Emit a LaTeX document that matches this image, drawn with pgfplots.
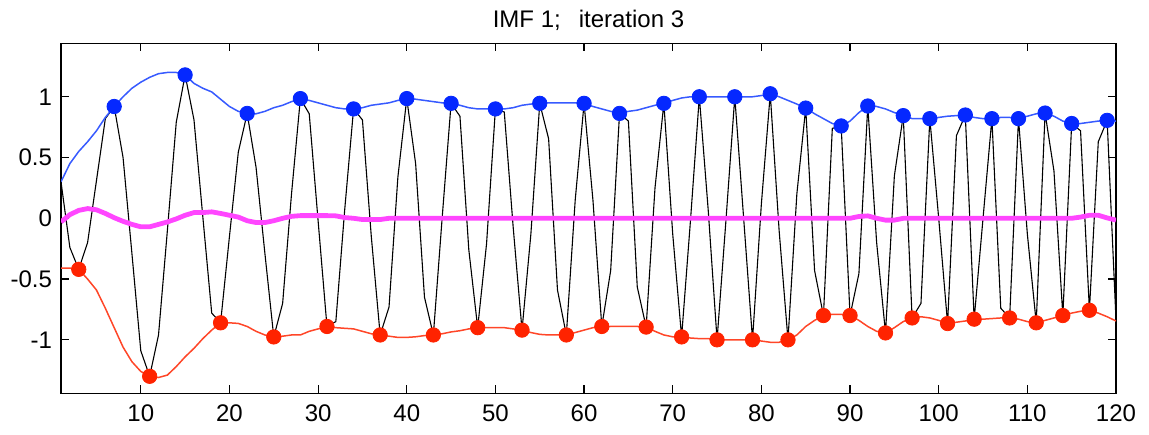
\documentclass[border=0pt]{standalone}
\usepackage{pgfplots}
\usepackage{pgfplotstable}
\pgfplotsset{compat=1.18}
\usepackage{fontspec}
\setmainfont{Liberation Sans}
\definecolor{upC}{RGB}{55,90,255}
\definecolor{upM}{RGB}{5,40,255}
\definecolor{loC}{RGB}{255,70,40}
\definecolor{loM}{RGB}{255,35,0}
\definecolor{mnC}{RGB}{255,70,255}
\pgfplotstableread{
x s up lo mn
1 0.30 0.30 -0.41 -0.03
2 -0.24 0.45 -0.41 0.03
3 -0.42 0.55 -0.42 0.065
4 -0.20 0.63 -0.50 0.08
5 0.31 0.72 -0.59 0.07
6 0.82 0.83 -0.74 0.04
7 0.92 0.92 -0.90 0.005
8 0.50 1.00 -1.06 -0.025
9 -0.29 1.07 -1.18 -0.05
10 -1.09 1.12 -1.26 -0.07
11 -1.30 1.16 -1.30 -0.07
12 -0.96 1.19 -1.31 -0.05
13 -0.10 1.20 -1.29 -0.03
14 0.79 1.20 -1.22 -0.005
15 1.18 1.18 -1.14 0.025
16 0.81 1.11 -1.07 0.047
17 0.01 1.07 -0.99 0.047
18 -0.78 1.04 -0.92 0.053
19 -0.86 0.98 -0.86 0.04
20 -0.15 0.92 -0.86 0.025
21 0.545 0.88 -0.865 0.01
22 0.863 0.863 -0.89 -0.02
23 0.42 0.86 -0.93 -0.035
24 -0.29 0.88 -0.96 -0.035
25 -0.976 0.91 -0.976 -0.02
26 -0.70 0.93 -0.97 0.0
27 0.20 0.96 -0.96 0.016
28 0.985 0.985 -0.96 0.022
29 0.86 0.97 -0.93 0.022
30 -0.02 0.95 -0.91 0.022
31 -0.89 0.93 -0.895 0.022
32 -0.85 0.91 -0.90 0.02
33 0.07 0.90 -0.905 0.006
34 0.90 0.90 -0.91 0.0
35 0.81 0.91 -0.93 -0.01
36 -0.15 0.93 -0.95 -0.01
37 -0.96 0.94 -0.96 -0.01
38 -0.73 0.95 -0.97 0.0
39 0.34 0.97 -0.98 0.0
40 0.985 0.985 -0.98 0.0
41 0.45 0.98 -0.975 0
42 -0.65 0.97 -0.965 0
43 -0.96 0.96 -0.96 0
44 0.01 0.95 -0.95 0
45 0.946 0.946 -0.935 0
46 0.84 0.93 -0.925 0
47 -0.26 0.91 -0.91 0
48 -0.90 0.90 -0.90 0
49 -0.21 0.90 -0.90 0
50 0.90 0.90 -0.90 0
51 0.874 0.90 -0.90 0
52 -0.07 0.91 -0.91 0
53 -0.92 0.93 -0.92 0
54 -0.13 0.94 -0.94 0
55 0.946 0.946 -0.955 0
56 0.655 0.95 -0.96 0
57 -0.59 0.95 -0.96 0
58 -0.96 0.95 -0.96 0
59 0.15 0.95 -0.94 0
60 0.946 0.946 -0.92 0
61 0.15 0.92 -0.90 0
62 -0.89 0.90 -0.895 0
63 -0.43 0.88 -0.89 0
64 0.863 0.863 -0.89 0
65 0.80 0.88 -0.89 0
66 -0.565 0.89 -0.89 0
67 -0.895 0.91 -0.895 0
68 0.25 0.93 -0.93 0
69 0.946 0.946 -0.96 0
70 -0.13 0.97 -0.975 0
71 -0.976 0.99 -0.976 0
72 -0.02 1.0 -0.985 0
73 1.0 1.0 -0.99 0
74 0.07 1.0 -0.99 0
75 -1.0 1.0 -1.0 0
76 -0.02 1.0 -1.0 0
77 1.0 1.0 -1.0 0
78 0.0 1.0 -1.0 0
79 -1.0 1.0 -1.0 0
80 0.12 1.01 -1.01 0
81 1.025 1.025 -1.02 0
82 -0.10 1.00 -1.02 0
83 -1.0 0.97 -1.0 0
84 0.20 0.94 -0.96 0
85 0.907 0.907 -0.89 0
86 -0.43 0.86 -0.84 0
87 -0.80 0.82 -0.80 0
88 0.74 0.78 -0.79 0
89 0.76 0.76 -0.79 0
90 -0.80 0.80 -0.80 0
91 -0.455 0.87 -0.84 0.015
92 0.924 0.924 -0.89 0.02
93 -0.20 0.92 -0.93 0
94 -0.943 0.90 -0.943 -0.015
95 0.35 0.87 -0.90 -0.015
96 0.845 0.845 -0.85 0
97 -0.82 0.82 -0.82 0
98 -0.70 0.82 -0.81 0
99 0.82 0.82 -0.82 0
100 0.0 0.83 -0.84 0
101 -0.866 0.84 -0.866 0
102 0.68 0.845 -0.855 0
103 0.85 0.85 -0.845 0
104 -0.83 0.83 -0.835 0
105 0.0 0.82 -0.83 0
106 0.82 0.82 -0.825 0
107 -0.74 0.83 -0.82 0
108 -0.82 0.83 -0.82 0
109 0.82 0.82 -0.83 0
110 -0.13 0.84 -0.85 0
111 -0.86 0.86 -0.86 0
112 0.866 0.866 -0.84 0
113 0.39 0.84 -0.82 0
114 -0.80 0.80 -0.80 0
115 0.78 0.78 -0.78 0
116 0.72 0.78 -0.765 0.01
117 -0.757 0.79 -0.757 0.025
118 0.63 0.80 -0.78 0.025
119 0.806 0.806 -0.81 0.003
120 -0.84 0.80 -0.845 -0.015
}\imf
\pgfplotstableread{
x y
7 0.92
15 1.18
22 0.863
28 0.985
34 0.90
40 0.985
45 0.946
50 0.90
55 0.946
60 0.946
64 0.863
69 0.946
73 1.0
77 1.0
81 1.025
85 0.907
89 0.76
92 0.924
96 0.845
99 0.82
103 0.85
106 0.82
109 0.82
112 0.866
115 0.78
119 0.806
}\maxima
\pgfplotstableread{
x y
3 -0.42
11 -1.30
19 -0.86
25 -0.976
31 -0.89
37 -0.96
43 -0.96
48 -0.90
53 -0.92
58 -0.96
62 -0.89
67 -0.895
71 -0.976
75 -1.0
79 -1.0
83 -1.0
87 -0.80
90 -0.80
94 -0.943
97 -0.82
101 -0.866
104 -0.83
108 -0.82
111 -0.86
114 -0.80
117 -0.757
}\minima
\begin{document}
\begin{tikzpicture}
\begin{axis}[
  scale only axis,
  width=527.5pt, height=175pt,
  xmin=1, xmax=120, ymin=-1.44, ymax=1.44,
  xtick={10,20,30,40,50,60,70,80,90,100,110,120},
  xticklabels={10,20,30,40,50,60,70,80,90,100,110,120},
  ytick={-1,-0.5,0,0.5,1},
  yticklabels={-1,-0.5,0,0.5,1},
  tick align=inside,
  major tick length=4pt,
  tick style={black, line width=0.6pt},
  axis line style={black, line width=0.7pt},
  ticklabel style={font=\fontsize{12}{14}\selectfont},
  xticklabel style={yshift=-2pt},
  yticklabel style={xshift=-1pt},
  title={IMF 1;\hspace{0.75em}iteration 3},
  every axis title/.style={at={(0.5,1)}, anchor=base, yshift=8pt, font=\fontsize{12}{14}\selectfont},
  clip=true,
]
\coordinate (bl) at (rel axis cs:0,0);
\coordinate (tr) at (rel axis cs:1,1);
\addplot[black, line width=0.55pt] table[x=x, y=s] {\imf};
\addplot[upC, line width=0.75pt] table[x=x, y=up] {\imf};
\addplot[loC, line width=0.75pt] table[x=x, y=lo] {\imf};
\addplot[mnC, line width=2.4pt] table[x=x, y=mn] {\imf};
\addplot[only marks, mark=*, mark size=3.6pt, color=upM] table[x=x, y=y] {\maxima};
\addplot[only marks, mark=*, mark size=3.6pt, color=loM] table[x=x, y=y] {\minima};
\end{axis}
\pgfresetboundingbox
\path[use as bounding box] ([shift={(-30.5pt,-20.35pt)}]bl) rectangle ([shift={(16.5pt,21.65pt)}]tr);
\end{tikzpicture}
\end{document}
